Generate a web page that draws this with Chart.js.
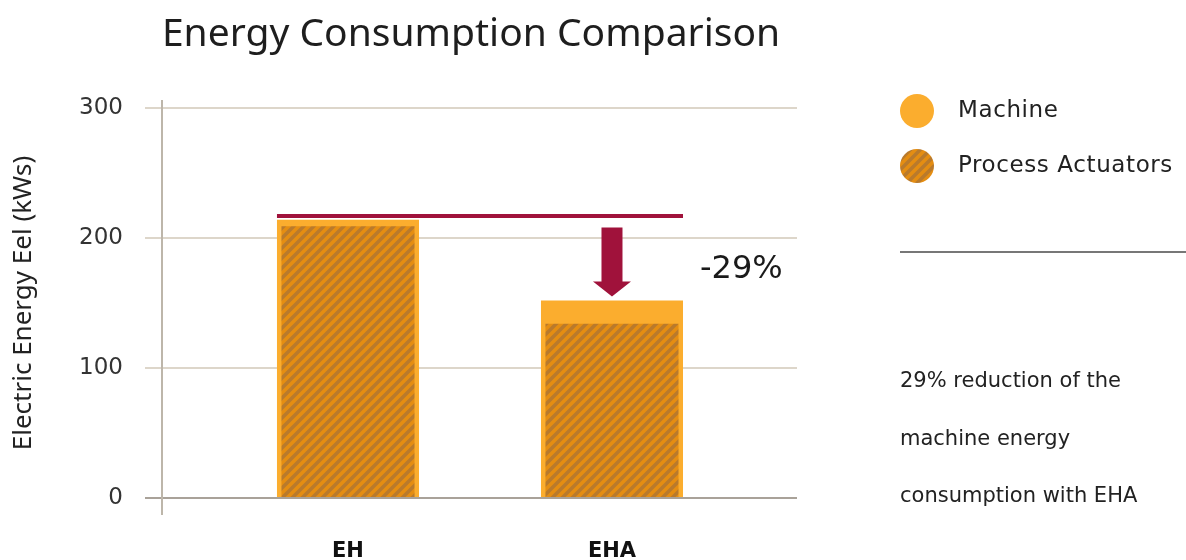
<!DOCTYPE html>
<html>
<head>
<meta charset="utf-8">
<script src="https://cdn.jsdelivr.net/npm/chart.js@4.4.1/dist/chart.umd.min.js"></script>
<style>
  body { margin: 0; background: #fff; }
  #wrap { width: 1186px; height: 560px; position: relative; }
</style>
</head>
<body>
<div id="wrap"><canvas id="chartEnergy" width="1186" height="560"></canvas></div>
<script>
// Data
const categories = ['EH', 'EHA'];
const machineValues = [214, 152];
const actuatorValues = [209, 134];
const yTicks = [0, 100, 200, 300];
const referenceLevel = [217];          // red line = EH machine level
const arrowRange = [208, 155];         // arrow from / to (kWs)
const reductionLabel = '-29%';
const noteLines = ['29% reduction of the', 'machine energy', 'consumption with EHA'];

const FONT = "'Noto Sans', 'DejaVu Sans', sans-serif";
const FONT_W = "'DejaVu Sans', 'Noto Sans', sans-serif";
const MACHINE_COLOR = '#FBAD2E';
const RED = '#A0123B';

function hatchPattern() {
    const c = document.createElement('canvas');
    c.width = 10; c.height = 10;
    const g = c.getContext('2d');
    g.fillStyle = '#E48D12';
    g.fillRect(0, 0, 10, 10);
    g.strokeStyle = '#B97A2C';
    g.lineWidth = 3.5;
    g.beginPath();
    g.moveTo(-2, 12); g.lineTo(12, -2);
    g.moveTo(-7, 7); g.lineTo(7, -7);
    g.moveTo(3, 17); g.lineTo(17, 3);
    g.stroke();
    return g.createPattern(c, 'repeat');
}
const hatch = hatchPattern();

// Decorations: title, axis line, red line + arrow, legend, note
const decorations = {
    id: 'decorations',
    afterDatasetsDraw(chart) {
        const { ctx, scales: { x, y }, chartArea } = chart;
        ctx.save();
        // vertical axis line
        ctx.strokeStyle = '#BDB6AA';
        ctx.lineWidth = 2;
        ctx.beginPath();
        ctx.moveTo(chartArea.left, chartArea.top - 8);
        ctx.lineTo(chartArea.left, chartArea.bottom + 17);
        ctx.stroke();

        // reference line across both bars
        const m0 = chart.getDatasetMeta(0);
        const b0 = m0.data[0], b1 = m0.data[m0.data.length - 1];
        const xl = b0.x - b0.width / 2, xr = b1.x + b1.width / 2;
        const yl = y.getPixelForValue(referenceLevel[0]);
        ctx.strokeStyle = RED;
        ctx.lineWidth = 4;
        ctx.beginPath();
        ctx.moveTo(xl, yl); ctx.lineTo(xr, yl);
        ctx.stroke();

        // arrow
        const ax = b1.x;
        const yTop = y.getPixelForValue(arrowRange[0]);
        const yTip = y.getPixelForValue(arrowRange[1]);
        const headH = 15, shaftW = 21, headW = 38;
        ctx.fillStyle = RED;
        ctx.beginPath();
        ctx.moveTo(ax - shaftW / 2, yTop);
        ctx.lineTo(ax + shaftW / 2, yTop);
        ctx.lineTo(ax + shaftW / 2, yTip - headH);
        ctx.lineTo(ax + headW / 2, yTip - headH);
        ctx.lineTo(ax, yTip);
        ctx.lineTo(ax - headW / 2, yTip - headH);
        ctx.lineTo(ax - shaftW / 2, yTip - headH);
        ctx.closePath();
        ctx.fill();

        ctx.fillStyle = '#1a1a1a';
        ctx.font = `32px ${FONT_W}`;
        ctx.textBaseline = 'middle';
        ctx.textAlign = 'left';
        ctx.fillText(reductionLabel, 700, 270);
        ctx.restore();
    },
    afterDraw(chart) {
        const { ctx } = chart;
        ctx.save();
        // title
        ctx.fillStyle = '#1e1e1e';
        ctx.font = `39px ${FONT}`;
        ctx.textAlign = 'center';
        ctx.textBaseline = 'alphabetic';
        ctx.fillText('Energy Consumption Comparison', 471, 46);

        // legend
        const items = chart.data.datasets;
        ctx.textAlign = 'left';
        ctx.textBaseline = 'middle';
        ctx.font = `23px ${FONT_W}`;
        ctx.letterSpacing = '0.6px';
        items.forEach((ds, i) => {
            const cy = 111 + i * 55;
            ctx.fillStyle = ds.backgroundColor;
            ctx.beginPath();
            ctx.arc(917, cy, 17, 0, Math.PI * 2);
            ctx.fill();
            ctx.fillStyle = '#222';
            ctx.fillText(ds.label, 958, cy);
        });
        ctx.letterSpacing = '0px';

        // separator
        ctx.strokeStyle = '#777';
        ctx.lineWidth = 2;
        ctx.beginPath();
        ctx.moveTo(900, 252); ctx.lineTo(1186, 252);
        ctx.stroke();

        // note
        ctx.fillStyle = '#222';
        ctx.font = `21px ${FONT_W}`;
        noteLines.forEach((t, i) => ctx.fillText(t, 900, 382 + i * 57.5));
        ctx.restore();
    }
};

new Chart(document.getElementById('chartEnergy'), {
    type: 'bar',
    data: {
        datasets: [
            {
                label: 'Machine',
                data: machineValues.map((v, i) => ({ x: i + 1, y: v })),
                backgroundColor: MACHINE_COLOR,
                categoryPercentage: 0.538,
                barPercentage: 1,
                grouped: false,
                order: 2
            },
            {
                label: 'Process Actuators',
                data: actuatorValues.map((v, i) => ({ x: i + 1, y: v })),
                backgroundColor: hatch,
                categoryPercentage: 0.504,
                barPercentage: 1,
                grouped: false,
                order: 1
            }
        ]
    },
    options: {
        responsive: false,
        animation: false,
        layout: { padding: { top: 108, right: 389, bottom: 0, left: 0 } },
        plugins: { legend: { display: false }, tooltip: { enabled: false } },
        scales: {
            x: {
                type: 'linear',
                offset: false,
                min: 0.2955, max: 2.7008,
                grid: { display: false, offset: false },
                border: { display: false },
                afterBuildTicks: s => { s.ticks = categories.map((c, i) => ({ value: i + 1 })); },
                afterFit: s => { s.height = 62; },
                ticks: {
                    callback: v => categories[v - 1] || '',
                    color: '#111',
                    font: { family: FONT_W, size: 21, weight: 'bold' },
                    padding: 33,
                    maxRotation: 0
                }
            },
            y: {
                min: 0, max: 300,
                border: { display: false },
                afterBuildTicks: s => { s.ticks = yTicks.map(v => ({ value: v })); },
                afterFit: s => { s.width = 162; },
                grid: {
                    color: c => c.tick && c.tick.value === 0 ? '#A9A299' : '#DDD6CA',
                    lineWidth: 2,
                    tickLength: 17
                },
                ticks: {
                    color: '#333',
                    font: { family: FONT_W, size: 23 },
                    padding: 22
                },
                title: {
                    display: true,
                    text: 'Electric Energy Eel (kWs)',
                    color: '#222',
                    font: { family: FONT, size: 26 },
                    padding: { top: 8, bottom: 0 }
                }
            }
        }
    },
    plugins: [decorations]
});
</script>
</body>
</html>
